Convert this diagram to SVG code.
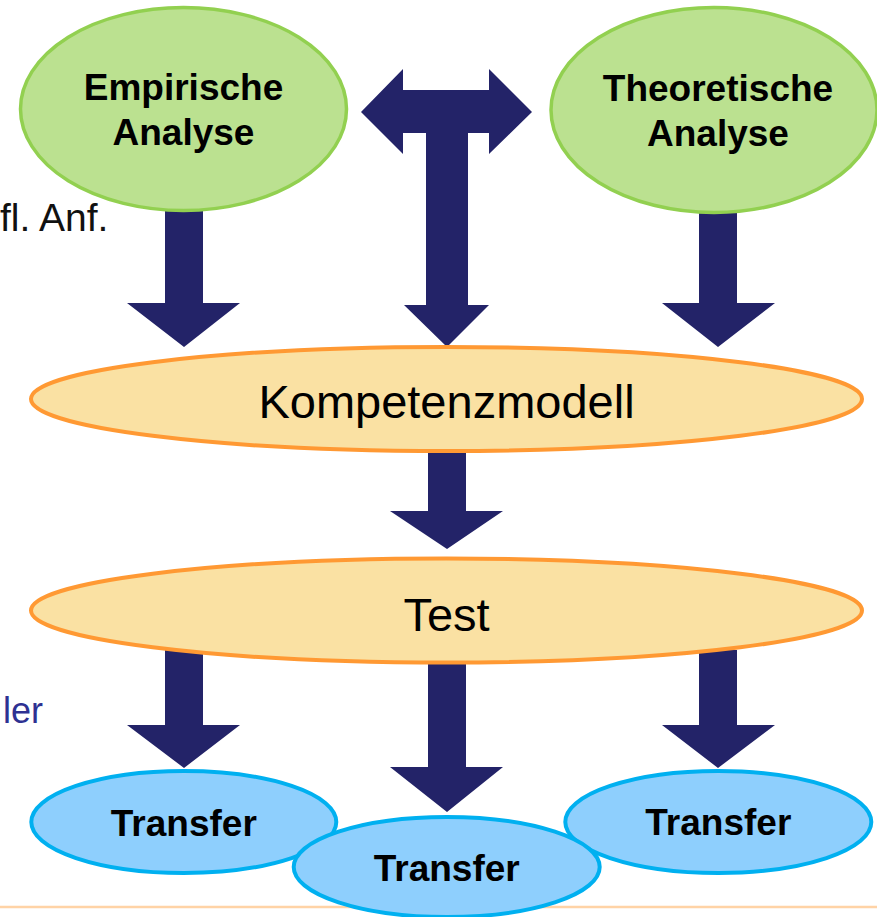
<svg xmlns="http://www.w3.org/2000/svg" width="877" height="917" viewBox="0 0 877 917">
  <style>
    .arrow { fill: #232368; stroke: none; }
    .green { fill: #BBE190; stroke: #92D050; stroke-width: 3.5; }
    .orange { fill: #FAE1A3; stroke: #FF9933; stroke-width: 4; }
    .blue { fill: #8ECFFD; stroke: #00B0F0; stroke-width: 4; }
    .bold { font-family: "Liberation Sans", Arial, sans-serif; font-weight: bold; font-size: 37px; fill: #000; text-anchor: middle; }
    .big { font-family: "Liberation Sans", Arial, sans-serif; font-size: 47px; fill: #000; text-anchor: middle; }
    .side { font-family: "Liberation Sans", Arial, sans-serif; font-size: 39px; fill: #111; }
    .side2 { font-family: "Liberation Sans", Arial, sans-serif; font-size: 36px; fill: #2E3192; text-anchor: end; }
  </style>

  <!-- background text fragments -->
  <text class="side" x="0" y="231">fl. Anf.</text>
  <text class="side2" x="43" y="723">ler</text>

  <!-- bottom rule -->
  <line x1="0" y1="907" x2="877" y2="907" stroke="#FFD3A6" stroke-width="2.5"/>

  <g id="connectors">
    <polygon class="arrow" points="165,190 203,190 203,303 240,303 184,347 127,303 165,303"/>
    <polygon class="arrow" points="699,190 737,190 737,303 775,303 718,347 662,303 699,303"/>
    <polygon class="arrow" points="361,112 403,69 403,90 489,90 489,69 532,112 489,154 489,133 468,133 468,305 489,305 447,347 404,305 426,305 426,133 403,133 403,154"/>
    <polygon class="arrow" points="428,440 466,440 466,511 503,511 447,549 390,511 428,511"/>
    <polygon class="arrow" points="165,650 203,650 203,725 240,725 184,768 127,725 165,725"/>
    <polygon class="arrow" points="428,650 466,650 466,767 503,767 447,812 390,767 428,767"/>
    <polygon class="arrow" points="699,650 737,650 737,725 775,725 718,768 662,725 699,725"/>
  </g>

  <g id="empirische">
    <ellipse class="green" cx="183.5" cy="109" rx="163" ry="101.5"/>
    <text class="bold" x="183.5" y="100">Empirische</text>
    <text class="bold" x="183.5" y="145">Analyse</text>
  </g>

  <g id="theoretische">
    <ellipse class="green" cx="714" cy="110" rx="163" ry="102.5"/>
    <text class="bold" x="718" y="101">Theoretische</text>
    <text class="bold" x="718" y="146">Analyse</text>
  </g>

  <g id="kompetenzmodell">
    <ellipse class="orange" cx="446.5" cy="399" rx="415.5" ry="52"/>
    <text class="big" x="446.5" y="418">Kompetenzmodell</text>
  </g>

  <g id="test">
    <ellipse class="orange" cx="446.5" cy="610.5" rx="415.5" ry="52"/>
    <text class="big" x="446.5" y="631">Test</text>
  </g>

  <g id="transfer-left">
    <ellipse class="blue" cx="183.8" cy="822" rx="152.5" ry="51"/>
    <text class="bold" x="183.8" y="836">Transfer</text>
  </g>

  <g id="transfer-right">
    <ellipse class="blue" cx="718.3" cy="822" rx="153" ry="51"/>
    <text class="bold" x="718.3" y="835">Transfer</text>
  </g>

  <g id="transfer-middle">
    <ellipse class="blue" cx="446.7" cy="867" rx="153" ry="50"/>
    <text class="bold" x="446.7" y="881">Transfer</text>
  </g>
</svg>
